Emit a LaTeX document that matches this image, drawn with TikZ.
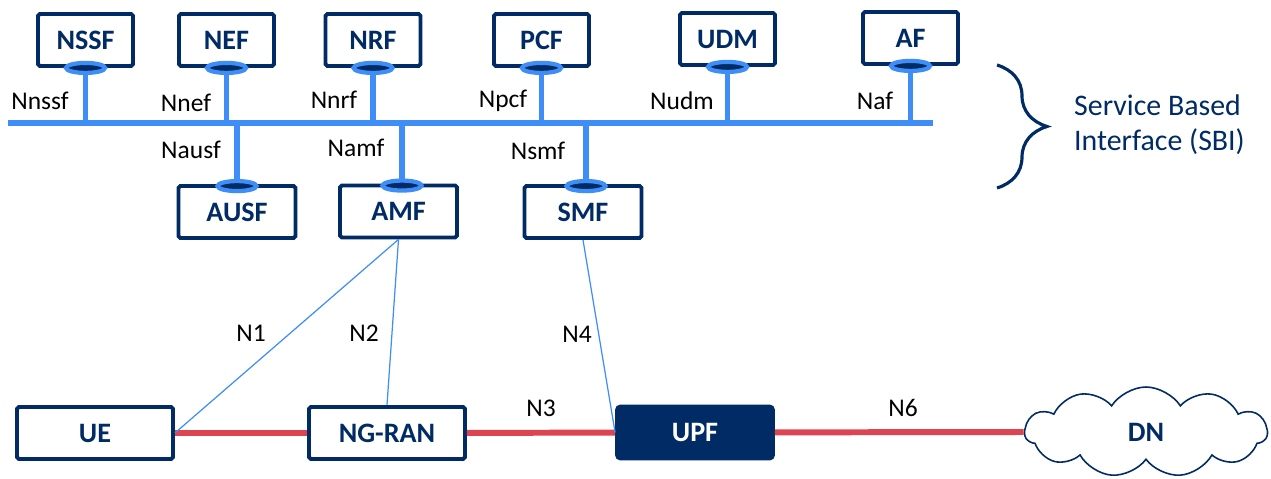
\documentclass[tikz,border=0pt]{standalone}
\usepackage{fontspec}
\setmainfont{Carlito}
\usetikzlibrary{calc,shapes.geometric,shapes.symbols,decorations.pathreplacing}
\definecolor{navy}{HTML}{002B64}
\definecolor{sbiblue}{HTML}{3F8EF7}
\definecolor{upred}{HTML}{DB4450}

\begin{document}
\begin{tikzpicture}[x=0.02cm,y=-0.02cm,
	nf/.style={draw=navy,line width=2.2pt,rounded corners=1pt,fill=white,text=navy,
		font=\bfseries\fontsize{16}{18}\selectfont,minimum height=1.04cm,inner sep=0pt},
	topnf/.style={nf,minimum width=1.9cm},
	botnf/.style={nf,minimum width=2.34cm},
	ran/.style={nf,minimum width=3.12cm},
	port/.style={ellipse,draw=sbiblue,line width=2.4pt,fill=navy,minimum width=0.78cm,minimum height=0.2cm,inner sep=0pt},
	bus/.style={sbiblue,line width=3.4pt},
	ctrl/.style={sbiblue,line width=0.7pt},
	user/.style={upred,line width=3.4pt},
	lbl/.style={font=\fontsize{14.5}{16}\selectfont},
	]
	\useasboundingbox (0,0) rectangle (1271,479);
	% service based bus
	\coordinate (busL) at (8,123);
	\coordinate (busR) at (933,123);
	\draw [bus] (busL) -- (busR);
	% network functions on top
	\node [topnf] (nssf) at (85.5,40) {NSSF};
	\node [topnf] (nef) at (226.5,40) {NEF};
	\node [topnf] (nrf) at (373,40) {NRF};
	\node [topnf] (pcf) at (541.5,40) {PCF};
	\node [topnf] (udm) at (727.5,39) {UDM};
	\node [topnf] (af) at (910.5,38) {AF};
	% network functions below
	\node [botnf] (ausf) at (237,212) {AUSF};
	\node [botnf] (amf) at (398.5,211.5) {AMF};
	\node [botnf] (smf) at (583,212) {SMF};
	\foreach \nf in {nssf,nef,nrf,pcf,udm,af} {
		\draw [bus] (\nf.south) -- (\nf.south |- busL);
		\node [port] (\nf p) at (\nf.south) {};
	}
	\coordinate (amfs) at ($(amf.north)+(3.5,0)$);
	\coordinate (smfs) at ($(smf.north)+(3,0)$);
	\draw [bus] (ausf.north) -- (ausf.north |- busL);
	\draw [bus] (amfs) -- (amfs |- busL);
	\draw [bus] (smfs) -- (smfs |- busL);
	\node [port] (ausfp) at ($(ausf.north)+(0,2)$) {};
	\node [port] (amfp) at ($(amfs)+(0,2)$) {};
	\node [port] (smfp) at ($(smfs)+(0,2)$) {};
	% service names
	\node [lbl] (nnssf) at (40,101) {Nnssf};
	\node [lbl] (nnef) at (186,103) {Nnef};
	\node [lbl] (nnrf) at (334,100) {Nnrf};
	\node [lbl] (npcf) at (503,101) {Npcf};
	\node [lbl] (nudm) at (682,101) {Nudm};
	\node [lbl] (naf) at (875,101) {Naf};
	\node [lbl] (nausf) at (191,150) {Nausf};
	\node [lbl] (namf) at (356,148) {Namf};
	\node [lbl] (nsmf) at (538,151) {Nsmf};
	% brace and caption
	\draw [navy,line width=1.8pt,decorate,decoration={brace,amplitude=1cm,aspect=0.5}] (997,65) -- (997,188);
	\node [anchor=west,text=navy,align=left,font=\fontsize{17}{20}\selectfont] (sbi) at (1068,125) {Service Based\\Interface (SBI)};
	% user plane
	\node [ran] (ue) at (95,433) {UE};
	\node [ran] (ngran) at (387,433) {NG-RAN};
	\node [ran,fill=navy,text=white,rounded corners=2pt] (upf) at (695,432.5) {UPF};
	\node [cloud,cloud puffs=11,cloud puff arc=115,aspect=2.7,draw=navy,line width=0.9pt,fill=white,text=navy,
		font=\bfseries\fontsize{16}{18}\selectfont,minimum width=4.85cm,minimum height=1.8cm,inner sep=0pt] (dn) at (1146,432) {DN};
	\draw [user] (ue) -- (ngran);
	\draw [user] (ngran) -- (upf);
	\draw [user] (upf) -- (dn.west);
	% control plane
	\draw [ctrl] (amf.south) -- (ue.east);
	\draw [ctrl] (amf.south) -- (ngran.north);
	\draw [ctrl] (smf.south) -- (upf.west);
	\node [lbl] (n1) at (251,333) {N1};
	\node [lbl] (n2) at (364,333) {N2};
	\node [lbl] (n4) at (577,334) {N4};
	\node [lbl] (n3) at (541,408) {N3};
	\node [lbl] (n6) at (903,408) {N6};
\end{tikzpicture}
\end{document}
